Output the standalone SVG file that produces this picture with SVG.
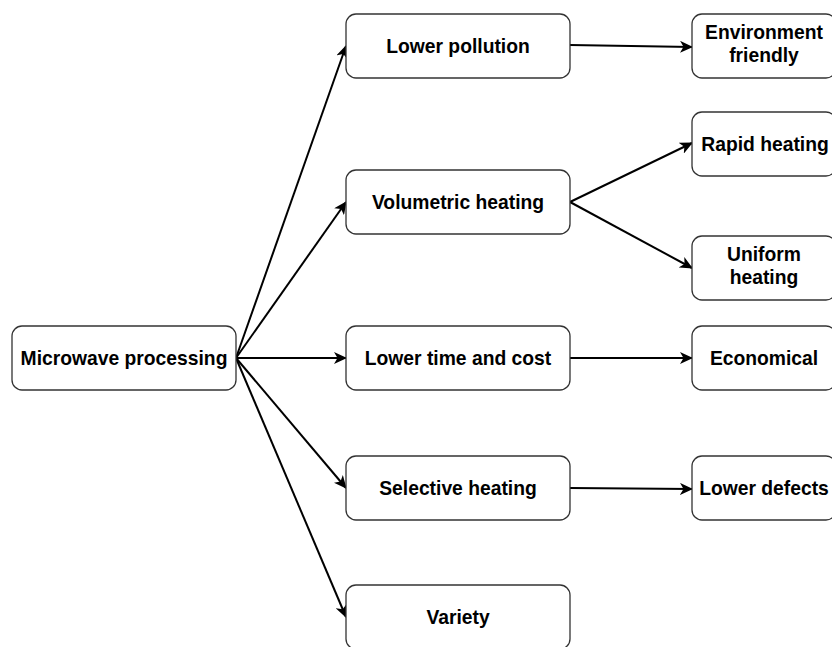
<svg xmlns="http://www.w3.org/2000/svg" width="832" height="647" viewBox="0 0 832 647">
<style>
.box{fill:#fff;stroke:#333;stroke-width:1.3}
.t{font-family:"Liberation Sans",Arial,sans-serif;font-weight:bold;font-size:19.3px;fill:#000;text-anchor:middle}
.c{stroke:#000;stroke-width:2;fill:none;marker-end:url(#ah)}
</style>
<defs>
<marker id="ah" markerWidth="14" markerHeight="12" viewBox="0 0 14 12" refX="12" refY="6" orient="auto" markerUnits="userSpaceOnUse">
<path d="M0,0 L13,6 L0,12 L3.5,6 Z" fill="#000"/>
</marker>
</defs>
<rect width="832" height="647" fill="#fff"/>
<g id="connectors">
<line class="c" x1="236" y1="358" x2="346" y2="46"/>
<line class="c" x1="236" y1="358" x2="346" y2="202"/>
<line class="c" x1="236" y1="358" x2="346" y2="358"/>
<line class="c" x1="236" y1="358" x2="346" y2="488"/>
<line class="c" x1="236" y1="358" x2="346" y2="617"/>
<line class="c" x1="570" y1="45" x2="692" y2="47"/>
<line class="c" x1="570" y1="202" x2="692" y2="143"/>
<line class="c" x1="570" y1="202" x2="692" y2="268"/>
<line class="c" x1="570" y1="358" x2="692" y2="358"/>
<line class="c" x1="570" y1="488" x2="692" y2="489"/>
</g>
<g id="microwave"><rect class="box" x="12" y="326" width="224" height="64" rx="10"/><text class="t" x="124" y="365">Microwave processing</text></g>
<g id="lowerpollution"><rect class="box" x="346" y="14" width="224" height="64" rx="10"/><text class="t" x="458" y="53">Lower pollution</text></g>
<g id="volumetric"><rect class="box" x="346" y="170" width="224" height="64" rx="10"/><text class="t" x="458" y="209">Volumetric heating</text></g>
<g id="lowertime"><rect class="box" x="346" y="326" width="224" height="64" rx="10"/><text class="t" x="458" y="365">Lower time and cost</text></g>
<g id="selective"><rect class="box" x="346" y="456" width="224" height="64" rx="10"/><text class="t" x="458" y="495">Selective heating</text></g>
<g id="variety"><rect class="box" x="346" y="585" width="224" height="64" rx="10"/><text class="t" x="458" y="624">Variety</text></g>
<g id="environment"><rect class="box" x="692" y="14" width="144" height="64" rx="10"/><text class="t" x="764" y="39">Environment</text><text class="t" x="764" y="62">friendly</text></g>
<g id="rapid"><rect class="box" x="692" y="112" width="144" height="64" rx="10"/><text class="t" x="765" y="151">Rapid heating</text></g>
<g id="uniform"><rect class="box" x="692" y="236" width="144" height="64" rx="10"/><text class="t" x="764" y="261">Uniform</text><text class="t" x="764" y="284">heating</text></g>
<g id="economical"><rect class="box" x="692" y="326" width="144" height="64" rx="10"/><text class="t" x="764" y="365">Economical</text></g>
<g id="lowerdefects"><rect class="box" x="692" y="456" width="144" height="64" rx="10"/><text class="t" x="764" y="495">Lower defects</text></g>
</svg>
